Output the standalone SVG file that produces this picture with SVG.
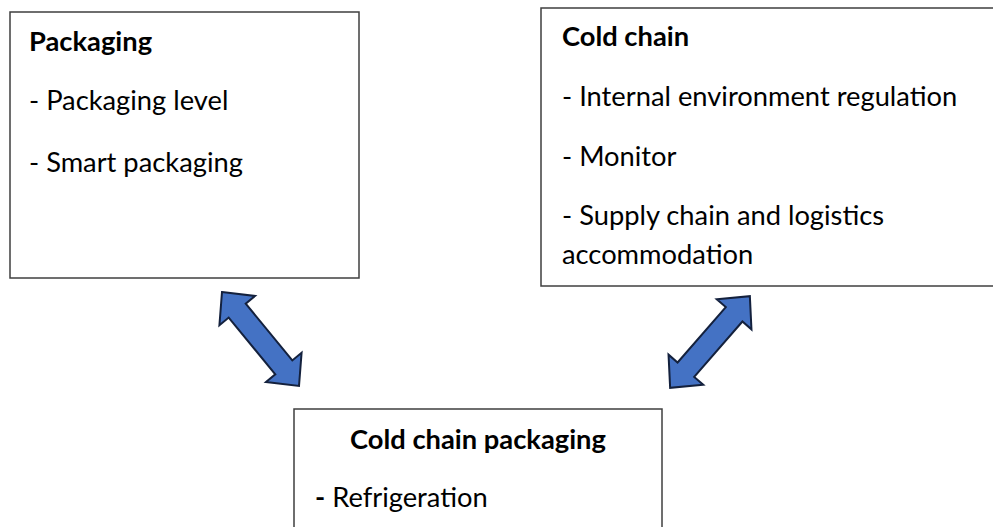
<svg xmlns="http://www.w3.org/2000/svg" width="993" height="527" viewBox="0 0 993 527">
  <style>
    .box { fill: #ffffff; stroke: #3f3f3f; stroke-width: 1.5; }
    .t { font-family: Lato, "Open Sans", sans-serif; font-size: 27.3px; fill: #000000; }
    .b { font-weight: bold; }
    .arrow { fill: #4472c4; stroke: #14213d; stroke-width: 2; stroke-linejoin: miter; }
  </style>
  <defs>
    <!-- double-headed block arrow, drawn along the x axis around the origin -->
    <polygon id="dblArrow" points="-60.75,0 -36.75,-23 -36.75,-11 36.75,-11 36.75,-23 60.75,0 36.75,23 36.75,11 -36.75,11 -36.75,23"/>
  </defs>
  <rect width="993" height="527" fill="#ffffff"/>

  <g id="packaging">
    <rect class="box" x="10" y="12" width="349" height="266"/>
    <text class="t b" x="29" y="51">Packaging</text>
    <text class="t" x="29" y="110">- Packaging level</text>
    <text class="t" x="29" y="172">- Smart packaging</text>
  </g>

  <g id="cold-chain">
    <rect class="box" x="541" y="8" width="460" height="278"/>
    <text class="t b" x="562" y="46">Cold chain</text>
    <text class="t" x="562" y="106">- Internal environment regulation</text>
    <text class="t" x="562" y="166">- Monitor</text>
    <text class="t" x="562" y="225">- Supply chain and logistics</text>
    <text class="t" x="562" y="264">accommodation</text>
  </g>

  <g id="cold-chain-packaging">
    <rect class="box" x="294" y="409" width="368" height="130"/>
    <text class="t b" x="478" y="449" text-anchor="middle">Cold chain packaging</text>
    <text class="t" x="315" y="507"><tspan class="b">-</tspan> Refrigeration</text>
  </g>

  <g id="connectors">
    <use href="#dblArrow" class="arrow" transform="translate(260.5,339) rotate(50.67)"/>
    <use href="#dblArrow" class="arrow" transform="translate(710,342) rotate(-49)"/>
  </g>
</svg>
